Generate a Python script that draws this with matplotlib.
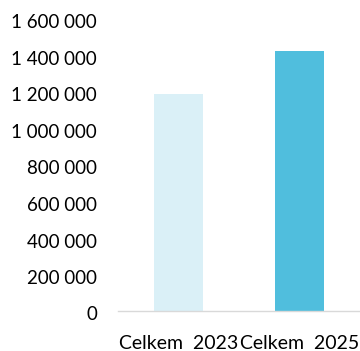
import matplotlib
matplotlib.use("Agg")
import matplotlib.pyplot as plt
from matplotlib.ticker import FuncFormatter
from matplotlib.transforms import ScaledTranslation

categories = ["Celkem  2023", "Celkem  2025"]
values = [1190000, 1425000]
colors = ["#DAF0F7", "#50BEDD"]
yticks = [0, 200000, 400000, 600000, 800000, 1000000, 1200000, 1400000, 1600000]

plt.rcParams['font.family'] = ['Lato', 'DejaVu Sans']

fig = plt.figure(figsize=(3.6, 3.51), dpi=100)
ax = fig.add_axes([118/360, (351-311)/351, 1 - 118/360, (311-19)/351])

ax.bar(range(len(categories)), values, width=0.405, color=colors)
ax.set_xlim(-0.5, 1.5)
ax.set_ylim(0, 1600000)
ax.set_yticks(yticks)
ax.yaxis.set_major_formatter(FuncFormatter(lambda v, p: f"{int(v):,}".replace(",", " ")))
ax.set_xticks(range(len(categories)))
ax.set_xticklabels(categories)

for s in ["top", "right", "left"]:
    ax.spines[s].set_visible(False)
ax.spines["bottom"].set_color("#D9D9D9")
ax.spines["bottom"].set_linewidth(1.0)
ax.tick_params(axis="both", length=0, colors="#000000")
ax.tick_params(axis="y", pad=15, labelsize=13.5)
ax.tick_params(axis="x", pad=17, labelsize=14)
offset = ScaledTranslation(0, -4/100, fig.dpi_scale_trans)
for lbl in ax.get_yticklabels():
    lbl.set_va("center")
    lbl.set_transform(lbl.get_transform() + offset)

fig.savefig("out.png", dpi=100)
